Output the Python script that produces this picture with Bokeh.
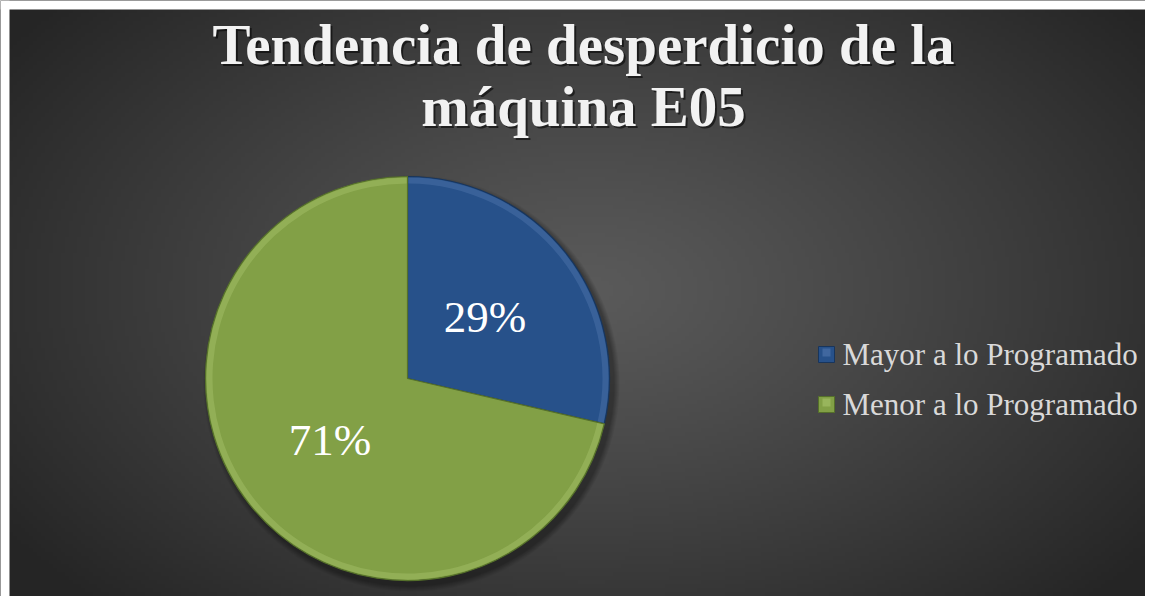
import numpy as np
from bokeh.plotting import figure
from bokeh.models import Range1d
from bokeh.core.properties import value
from bokeh.embed import file_html
from bokeh.resources import INLINE

# ---- data ----
categories = ["Mayor a lo Programado", "Menor a lo Programado"]
shares = [28.6, 71.4]
labels = ["29%", "71%"]
colors = ["#27518a", "#82a046"]
light_colors = ["#6f93c6", "#c3dc86"]
dark_colors = ["#18355c", "#55702a"]
title_lines = ["Tendencia de desperdicio de la", "máquina E05"]

W, H = 1145, 596


def Y(page_y):
    return H - page_y


p = figure(width=W, height=H, output_backend="svg", toolbar_location=None,
           x_range=Range1d(0, W), y_range=Range1d(0, H), min_border=0,
           border_fill_color="#2a2a2a", background_fill_color="#2a2a2a")
p.axis.visible = False
p.grid.visible = False
p.outline_line_color = None

# ---- background radial gradient ----
gh, gw = 149, 286
yy, xx = np.mgrid[0:gh, 0:gw]
px = (xx + 0.5) / gw * W
py = (yy + 0.5) / gh * H
cx_g, cy_g = 590.0, Y(290)
d = np.sqrt(((px - cx_g) / (W * 0.62)) ** 2 + ((py - cy_g) / (H * 0.74)) ** 2)
d = np.clip(d, 0, 1)
c = (0x5a - (0x5a - 0x25) * d ** 1.15).astype(np.uint8)
img = np.empty((gh, gw), dtype=np.uint32)
view = img.view(dtype=np.uint8).reshape((gh, gw, 4))
view[:, :, 0] = c
view[:, :, 1] = c
view[:, :, 2] = c
view[:, :, 3] = 255
p.image_rgba(image=[img], x=0, y=0, dw=W, dh=H)

# white page margin seen at the left and top of the reference
p.quad(left=[0, 0], right=[9, W], bottom=[0, Y(9)], top=[H, H],
       fill_color="white", line_color=None)

# ---- pie ----
pcx, pcy, r = 407, Y(378), 202
total = sum(shares)
angles = [2 * np.pi * s / total for s in shares]
starts, ends, mids = [], [], []
a = np.pi / 2
for ang in angles:
    starts.append(a)
    ends.append(a - ang)
    mids.append(a - ang / 2)
    a -= ang

# soft drop shadow
for k, al in zip(range(6), [0.05, 0.05, 0.06, 0.06, 0.07, 0.08]):
    p.circle(x=pcx + 4, y=pcy - 5, radius=r + 6 - k, radius_units="screen",
             fill_color="black", fill_alpha=al, line_color=None)

for i in range(len(shares)):
    p.wedge(x=pcx, y=pcy, radius=r, radius_units="screen",
            start_angle=ends[i], end_angle=starts[i],
            fill_color=colors[i], line_color=dark_colors[i], line_width=1.2)
    # bevel rim
    p.annular_wedge(x=pcx, y=pcy, inner_radius=r - 7, outer_radius=r - 1,
                    inner_radius_units="screen", outer_radius_units="screen",
                    start_angle=ends[i] + 0.004, end_angle=starts[i] - 0.004,
                    fill_color=light_colors[i], fill_alpha=0.25, line_color=None)

# data labels
for i in range(len(shares)):
    lx = pcx + 0.49 * r * np.cos(mids[i])
    ly = pcy + 0.49 * r * np.sin(mids[i])
    p.text(x=[lx], y=[ly], text=[labels[i]], text_align="center",
           text_baseline="middle", text_color="white",
           text_font=value("Liberation Serif"), text_font_size="45px")

# ---- title ----
title_y = [552, 490]
for t, ty in zip(title_lines, title_y):
    p.text(x=[583 + 2], y=[ty - 2], text=[t], text_align="center",
           text_baseline="alphabetic", text_color="black", text_alpha=0.55,
           text_font=value("Liberation Serif"), text_font_style="bold",
           text_font_size="57px")
    p.text(x=[583], y=[ty], text=[t], text_align="center",
           text_baseline="alphabetic", text_color="#f2f2f2",
           text_font=value("Liberation Serif"), text_font_style="bold",
           text_font_size="57px")

# ---- legend ----
leg_y = [Y(354), Y(404)]
for i in range(len(categories)):
    p.scatter(x=[826], y=[leg_y[i]], marker="square", size=16,
              fill_color=colors[i], line_color=dark_colors[i], line_width=1)
    p.scatter(x=[826], y=[leg_y[i] + 2], marker="square", size=8,
              fill_color=light_colors[i], fill_alpha=0.35, line_color=None)
    p.text(x=[842], y=[leg_y[i]], text=[categories[i]], text_align="left",
           text_baseline="middle", text_color="#d9d9d9",
           text_font=value("Liberation Serif"), text_font_size="31px")

open("out.html", "w").write(file_html(p, INLINE))
